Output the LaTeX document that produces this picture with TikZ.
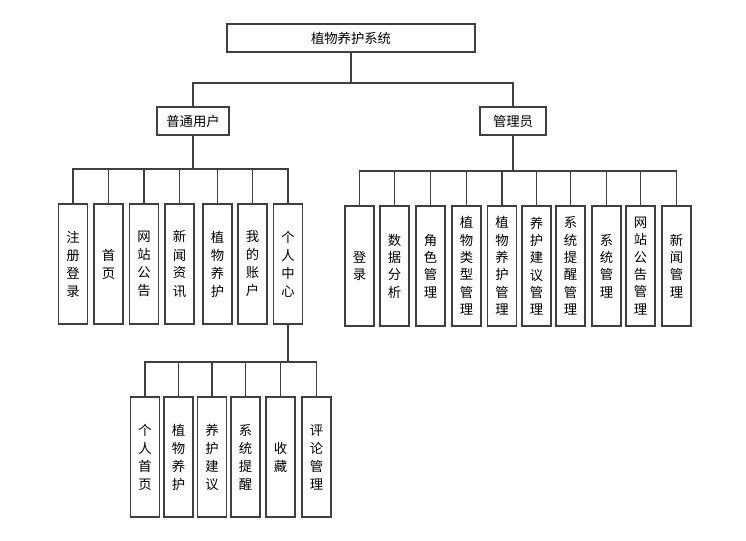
\documentclass[tikz,border=0pt]{standalone}
\usepackage{fontspec}
\newfontfamily\cjk{Noto Sans CJK SC}
\begin{document}
\begin{tikzpicture}[x=0.75pt,y=-0.75pt,
  box/.style={draw=black!75, line width=1.1pt, inner sep=0pt, align=center,
    font=\cjk\fontsize{10}{12}\selectfont, text=black},
  hbox/.style={box, minimum height=21pt},
  vbox/.style={box, minimum width=21.75pt, minimum height=90pt,
    font=\cjk\fontsize{10}{13.5}\selectfont},
  vboxr/.style={vbox, font=\cjk\fontsize{10}{13}\selectfont},
  conn/.style={draw=black!75, line width=1pt}]
\useasboundingbox (0,0) rectangle (746,540);

\node[hbox, minimum width=186pt] (top) at (351,38) {植物养护系统};
\node[hbox, minimum width=54pt] (user) at (193,121) {普通用户};
\node[hbox, minimum width=49.5pt] (admin) at (513,121) {管理员};

% left group
\node[vbox] (u1) at (73,264) {注\\册\\登\\录};
\node[vbox] (u2) at (108.5,264) {首\\页};
\node[vbox] (u3) at (144,264) {网\\站\\公\\告};
\node[vbox] (u4) at (179.5,264) {新\\闻\\资\\讯};
\node[vbox] (u5) at (217.5,264) {植\\物\\养\\护};
\node[vbox] (u6) at (252.5,264) {我\\的\\账\\户};
\node[vbox] (u7) at (288,264) {个\\人\\中\\心};

% right group
\node[vboxr] (a1) at (359.5,266) {登\\录};
\node[vboxr] (a2) at (394.5,266) {数\\据\\分\\析};
\node[vboxr] (a3) at (430.5,266) {角\\色\\管\\理};
\node[vboxr] (a4) at (466.5,266) {植\\物\\类\\型\\管\\理};
\node[vboxr] (a5) at (502,266) {植\\物\\养\\护\\管\\理};
\node[vboxr] (a6) at (536.5,266) {养\\护\\建\\议\\管\\理};
\node[vboxr] (a7) at (570.5,266) {系\\统\\提\\醒\\管\\理};
\node[vboxr] (a8) at (606.5,266) {系\\统\\管\\理};
\node[vboxr] (a9) at (640.5,266) {网\\站\\公\\告\\管\\理};
\node[vboxr] (a10) at (676.5,266) {新\\闻\\管\\理};

% bottom group
\node[vbox] (p1) at (145,457) {个\\人\\首\\页};
\node[vbox] (p2) at (178.5,457) {植\\物\\养\\护};
\node[vbox] (p3) at (212,457) {养\\护\\建\\议};
\node[vbox] (p4) at (245.5,457) {系\\统\\提\\醒};
\node[vbox] (p5) at (280.5,457) {收\\藏};
\node[vbox] (p6) at (316.5,457) {评\\论\\管\\理};

% connectors
\coordinate (b0) at (351,83);
\draw[conn] (top.south) -- (b0) -| (user.north);
\draw[conn] (b0) -| (admin.north);

\coordinate (b1) at (193,169);
\draw[conn] (user.south) -- (b1);
\foreach \n in {u1,u2,u3,u4,u5,u6,u7} \draw[conn] (b1) -| (\n.north);

\coordinate (b2) at (513,171);
\draw[conn] (admin.south) -- (b2);
\foreach \n in {a1,a2,a3,a4,a5,a6,a7,a8,a9,a10} \draw[conn] (b2) -| (\n.north);

\coordinate (b3) at (288,362);
\draw[conn] (u7.south) -- (b3);
\foreach \n in {p1,p2,p3,p4,p5,p6} \draw[conn] (b3) -| (\n.north);
\end{tikzpicture}
\end{document}
